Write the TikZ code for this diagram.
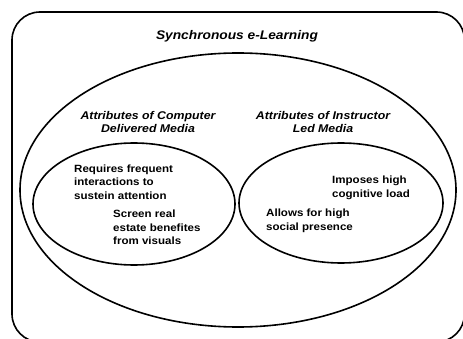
\documentclass[tikz,border=0pt]{standalone}
\usepackage{fontspec}
\setmainfont{Liberation Sans}
\newfontfamily\widesans[FakeStretch=1.1]{Liberation Sans}
\usetikzlibrary{positioning}

\tikzset{
  heading/.style={font=\widesans\fontsize{11.2}{13.5}\selectfont\bfseries\itshape, align=center, inner sep=0pt, anchor=base},
  remark/.style={font=\widesans\fontsize{10.5}{13.5}\selectfont\bfseries, align=left, inner sep=0pt, anchor=base west},
  ring/.style={line width=1.6pt}
}

\begin{document}
\begin{tikzpicture}[x=1pt,y=-1pt]
		%%%%% START %%%%%
		
		\useasboundingbox (0,0) rectangle (463,339);
		\clip (0,0) rectangle (463,339);
		
		\draw[ring, rounded corners=28pt] (12,12) rectangle (464.5,342);
		\node[heading, font=\widesans\fontsize{12.5}{14}\selectfont\bfseries\itshape] (title) at (237,40) {Synchronous e-Learning};
		
		\draw[ring] (238,190) ellipse (218 and 137);
		
		\draw[ring] (134,204) ellipse (101 and 61);
		\draw[ring] (341,203) ellipse (102 and 60);
		
		% the base anchor sits on the last line
		\node[heading] (computer) at (148,133) {Attributes of Computer\\Delivered Media};
		\node[heading] (instructor) at (323,133) {Attributes of Instructor\\Led Media};
		
		\node[remark] (frequent) at (74,199.5) {Requires frequent\\interactions to\\sustein attention};
		\node[remark] (screen) at (113,244.5) {Screen real\\estate benefites\\from visuals};
		
		\node[remark] (cognitive) at (332,197.5) {Imposes high\\cognitive load};
		\node[remark] (social) at (266,230.5) {Allows for high\\social presence};
		
		%%%%% END %%%%%
\end{tikzpicture}
\end{document}
